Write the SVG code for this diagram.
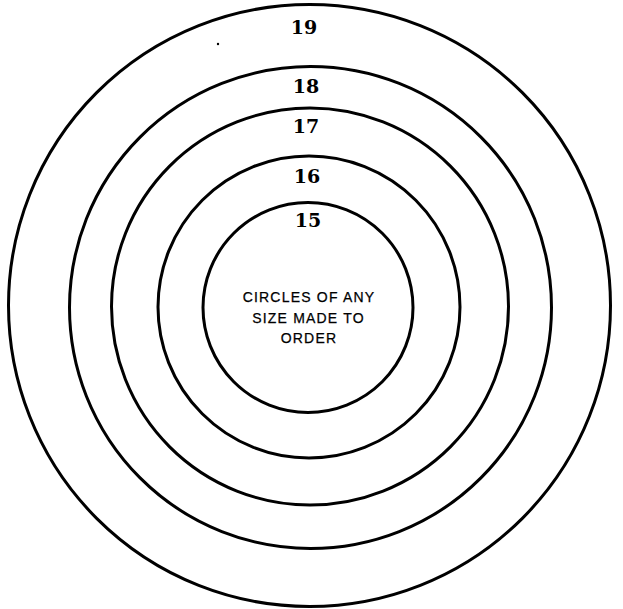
<svg xmlns="http://www.w3.org/2000/svg" width="623" height="609" viewBox="0 0 623 609">
<style>
.ring{fill:none;stroke:#000;stroke-width:3}
.num{font-family:"DejaVu Serif","Liberation Serif",serif;font-weight:bold;font-size:19px;text-anchor:middle;fill:#000}
.cap{font-family:"Liberation Sans",Arial,sans-serif;font-size:14px;letter-spacing:1.2px;text-anchor:middle;fill:#000;stroke:#000;stroke-width:0.25}
</style>
<rect width="623" height="609" fill="#fff"/>
<g id="ring19"><circle class="ring" cx="309.5" cy="305.5" r="301"/><text class="num" x="304" y="34">19</text></g>
<g id="ring18"><circle class="ring" cx="310.5" cy="307.5" r="241"/><text class="num" x="306" y="93">18</text></g>
<g id="ring17"><circle class="ring" cx="310" cy="306.5" r="198.5"/><text class="num" x="306" y="133">17</text></g>
<g id="ring16"><circle class="ring" cx="309" cy="307" r="151"/><text class="num" x="307" y="183">16</text></g>
<g id="ring15"><circle class="ring" cx="308" cy="307.5" r="105"/><text class="num" x="308" y="227">15</text>
<text class="cap" x="309" y="302">CIRCLES OF ANY</text>
<text class="cap" x="308.5" y="323">SIZE MADE TO</text>
<text class="cap" x="309" y="343">ORDER</text></g>
<circle cx="218" cy="44" r="1.2" fill="#000"/>
</svg>
